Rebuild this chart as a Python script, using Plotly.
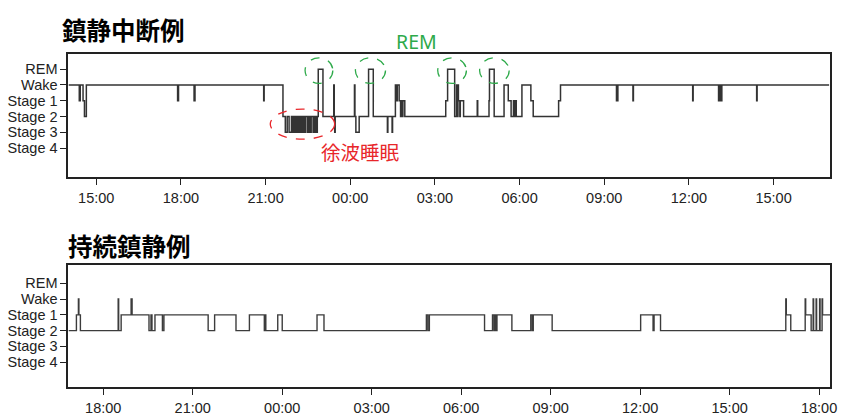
import plotly.graph_objects as go

# ---------------- data ----------------
STAGES = ["Stage 4", "Stage 3", "Stage 2", "Stage 1", "Wake", "REM"]  # bottom -> top

# Panel 1: 鎮静中断例  (day 1 / day 2, HH:MM) and stage
p1_times = [
    "1 14:01", "1 14:24", "1 14:26", "1 14:32", "1 14:35", "1 14:39",
    "1 17:53", "1 17:55", "1 18:28", "1 18:30", "1 20:56", "1 20:57",
    "1 21:37", "1 21:42", "1 21:46", "1 21:50", "1 21:55", "1 21:57",
    "1 21:59", "1 22:00", "1 22:02", "1 22:03", "1 22:05", "1 22:06",
    "1 22:08", "1 22:09", "1 22:11", "1 22:12", "1 22:14", "1 22:15",
    "1 22:17", "1 22:20", "1 22:21", "1 22:24", "1 22:25", "1 22:29",
    "1 22:30", "1 22:33", "1 22:34", "1 22:36", "1 22:37", "1 22:41",
    "1 22:42", "1 22:45", "1 22:46", "1 22:49", "1 22:50",
    "1 22:52", "1 23:02",
    "1 23:25", "1 23:26", "1 23:27", "1 23:28",
    "2 00:09", "2 00:10", "2 00:12", "2 00:19",
    "2 00:39", "2 00:49",
    "2 01:19", "2 01:20", "2 01:29", "2 01:30",
    "2 01:36", "2 01:39", "2 01:40", "2 01:44", "2 01:47", "2 01:48",
    "2 01:51", "2 01:52", "2 01:56",
    "2 03:23", "2 03:27", "2 03:42", "2 03:46", "2 03:47", "2 03:49",
    "2 03:50", "2 03:53", "2 03:54", "2 04:01",
    "2 04:30", "2 04:31",
    "2 04:55", "2 04:56", "2 05:06",
    "2 05:27", "2 05:36", "2 05:42", "2 05:47", "2 05:49", "2 05:51", "2 05:53",
    "2 06:05", "2 06:24", "2 06:29",
    "2 07:23", "2 07:27",
    "2 09:26", "2 09:29", "2 10:01", "2 10:02", "2 12:08", "2 12:09",
    "2 13:03", "2 13:05", "2 13:08", "2 13:10", "2 14:24", "2 14:25",
    "2 16:58",
]
p1_stages = [
    "Wake", "Stage 1", "Wake", "Stage 1", "Stage 2", "Wake",
    "Stage 1", "Wake", "Stage 1", "Wake", "Stage 1", "Wake",
    "Stage 2", "Stage 3", "Stage 2", "Stage 3", "Stage 2", "Stage 3",
    "Stage 2", "Stage 3", "Stage 2", "Stage 3", "Stage 2", "Stage 3",
    "Stage 2", "Stage 3", "Stage 2", "Stage 3", "Stage 2", "Stage 3",
    "Stage 2", "Stage 3", "Stage 2", "Stage 3", "Stage 2", "Stage 3",
    "Stage 2", "Stage 3", "Stage 2", "Stage 3", "Stage 2", "Stage 3",
    "Stage 2", "Stage 3", "Stage 2", "Stage 3", "Stage 2",
    "REM", "Stage 2",
    "Wake", "Stage 2", "Stage 3", "Stage 2",
    "Wake", "Stage 2", "Stage 3", "Stage 2",
    "REM", "Stage 2",
    "Stage 3", "Stage 2", "Stage 3", "Stage 2",
    "Wake", "Stage 1", "Wake", "Stage 1", "Stage 2", "Stage 1",
    "Stage 2", "Stage 1", "Stage 2",
    "Stage 1", "REM", "Stage 2", "Wake", "Stage 2", "Wake",
    "Stage 1", "Stage 2", "Stage 1", "Stage 2",
    "Stage 1", "Stage 2",
    "Stage 1", "REM", "Stage 2",
    "Wake", "Stage 1", "Stage 2", "Stage 1", "Stage 2", "Stage 1", "Stage 2",
    "Wake", "Stage 1", "Stage 2",
    "Stage 1", "Wake",
    "Stage 1", "Wake", "Stage 1", "Wake", "Stage 1", "Wake",
    "Stage 1", "Wake", "Stage 1", "Wake", "Stage 1", "Wake",
    "Wake",
]

# Panel 2: 持続鎮静例
p2_times = [
    "1 16:50", "1 17:06", "1 17:10", "1 17:11", "1 17:14",
    "1 18:30", "1 18:31", "1 18:36", "1 18:56", "1 18:58",
    "1 19:32", "1 19:36", "1 19:38", "1 19:44", "1 19:59", "1 20:02",
    "1 21:31", "1 21:44", "1 22:27", "1 22:54",
    "1 23:24", "1 23:25", "1 23:27", "1 23:51",
    "2 00:00", "2 01:10", "2 01:24",
    "2 04:50", "2 04:53", "2 04:56", "2 06:47",
    "2 07:03", "2 07:06", "2 07:08", "2 07:10", "2 07:12", "2 07:42",
    "2 08:20", "2 08:23", "2 08:25", "2 09:03",
    "2 12:01", "2 12:26", "2 12:28", "2 12:41",
    "2 16:53", "2 16:54", "2 17:03",
    "2 17:32", "2 17:33", "2 17:44", "2 17:48", "2 17:49", "2 17:54",
    "2 17:55", "2 18:01", "2 18:02", "2 18:06", "2 18:07", "2 18:22",
]
p2_stages = [
    "Stage 2", "Stage 1", "Wake", "Stage 1", "Stage 2",
    "Wake", "Stage 2", "Stage 1", "Wake", "Stage 1",
    "Stage 2", "Stage 1", "Stage 2", "Stage 1", "Stage 2", "Stage 1",
    "Stage 2", "Stage 1", "Stage 2", "Stage 1",
    "Stage 2", "Stage 1", "Stage 2", "Stage 1",
    "Stage 2", "Stage 1", "Stage 2",
    "Stage 1", "Stage 2", "Stage 1", "Stage 2",
    "Stage 1", "Stage 2", "Stage 1", "Stage 2", "Stage 1", "Stage 2",
    "Stage 1", "Stage 2", "Stage 1", "Stage 2",
    "Stage 1", "Stage 2", "Stage 1", "Stage 2",
    "Wake", "Stage 1", "Stage 2",
    "Wake", "Stage 1", "Stage 2", "Wake", "Stage 2", "Wake",
    "Stage 2", "Wake", "Stage 2", "Wake", "Stage 1", "Stage 1",
]

titles = ["鎮静中断例", "持続鎮静例"]
p1_xrange = ["1 14:01", "2 17:00"]
p2_xrange = ["1 16:50", "2 18:22"]
p1_tick0 = "1 15:00"
p2_tick0 = "1 18:00"

# REM episodes circled in panel 1 (time span)
rem_circles = [("1 22:24", "1 23:23"), ("2 00:11", "2 01:15"),
               ("2 03:06", "2 04:07"), ("2 04:35", "2 05:38")]
sws_ellipse = ("1 21:10", "1 23:27")


def ts(s):
    d, hm = s.split(" ")
    return f"2024-01-0{d} {hm}"


# ---------------- figure ----------------
fig = go.Figure()
fig.add_trace(go.Scatter(x=[ts(t) for t in p1_times], y=p1_stages, mode="lines",
                         line=dict(color="#333333", width=1.5, shape="hv"),
                         xaxis="x", yaxis="y", showlegend=False))
fig.add_trace(go.Scatter(x=[ts(t) for t in p2_times], y=p2_stages, mode="lines",
                         line=dict(color="#3c3c3c", width=1.4, shape="hv"),
                         xaxis="x2", yaxis="y2", showlegend=False))

XDOM = [0.0817, 0.9905]
tickfont = dict(family="Liberation Sans, Arial, sans-serif", size=14.5, color="#222")
axis_common = dict(showline=True, mirror=True, linecolor="#222", linewidth=2,
                   ticks="outside", ticklen=6, tickwidth=1.2, tickcolor="#222",
                   showgrid=False, zeroline=False, tickfont=tickfont)
HOUR3 = 3 * 3600 * 1000

fig.update_layout(
    width=845, height=416,
    margin=dict(l=0, r=0, t=0, b=0),
    paper_bgcolor="white", plot_bgcolor="white",
    xaxis=dict(domain=XDOM, anchor="y", type="date",
               range=[ts(p1_xrange[0]), ts(p1_xrange[1])],
               tick0=ts(p1_tick0), dtick=HOUR3, tickformat="%H:%M", **axis_common),
    yaxis=dict(domain=[0.5625, 0.8678], anchor="x", type="category",
               categoryorder="array", categoryarray=STAGES,
               tickmode="array", tickvals=STAGES, ticktext=STAGES,
               range=[-1.85, 5.99], **axis_common),
    xaxis2=dict(domain=XDOM, anchor="y2", type="date",
                range=[ts(p2_xrange[0]), ts(p2_xrange[1])],
                tick0=ts(p2_tick0), dtick=HOUR3, tickformat="%H:%M", **axis_common),
    yaxis2=dict(domain=[0.0433, 0.3462], anchor="x2", type="category",
                categoryorder="array", categoryarray=STAGES,
                tickmode="array", tickvals=STAGES, ticktext=STAGES,
                range=[-1.6, 6.17], **axis_common),
)

title_font = dict(family="Noto Sans CJK JP", size=24.5, color="#000", weight=700)
fig.add_annotation(text=titles[0], xref="paper", yref="paper", x=0.072, y=0.928,
                   xanchor="left", yanchor="middle", showarrow=False, font=title_font)
fig.add_annotation(text=titles[1], xref="paper", yref="paper", x=0.079, y=0.394,
                   xanchor="left", yanchor="middle", showarrow=False, font=title_font)

fig.add_annotation(text="REM", xref="paper", yref="paper", x=0.497, y=0.8966,
                   xanchor="center", yanchor="middle", showarrow=False,
                   font=dict(family="Noto Sans", size=19.5, color="#2eaa4a"))
fig.add_annotation(text="徐波睡眠", xref="paper", yref="paper", x=0.4296, y=0.627,
                   xanchor="center", yanchor="middle", showarrow=False,
                   font=dict(family="Noto Sans CJK JP", size=19.5, color="#e8262a"))

for a, b in rem_circles:
    fig.add_shape(type="circle", xref="x", yref="y", x0=ts(a), x1=ts(b),
                  y0=4.1, y1=5.72, line=dict(color="#2eaa4a", width=1.3, dash="dash"))
fig.add_shape(type="circle", xref="x", yref="y", x0=ts(sws_ellipse[0]), x1=ts(sws_ellipse[1]),
              y0=0.56, y1=2.47, line=dict(color="#e8262a", width=1.3, dash="dash"))

fig.write_html("out.html", post_script="document.body.style.margin='0';",
               config={"displayModeBar": False})
